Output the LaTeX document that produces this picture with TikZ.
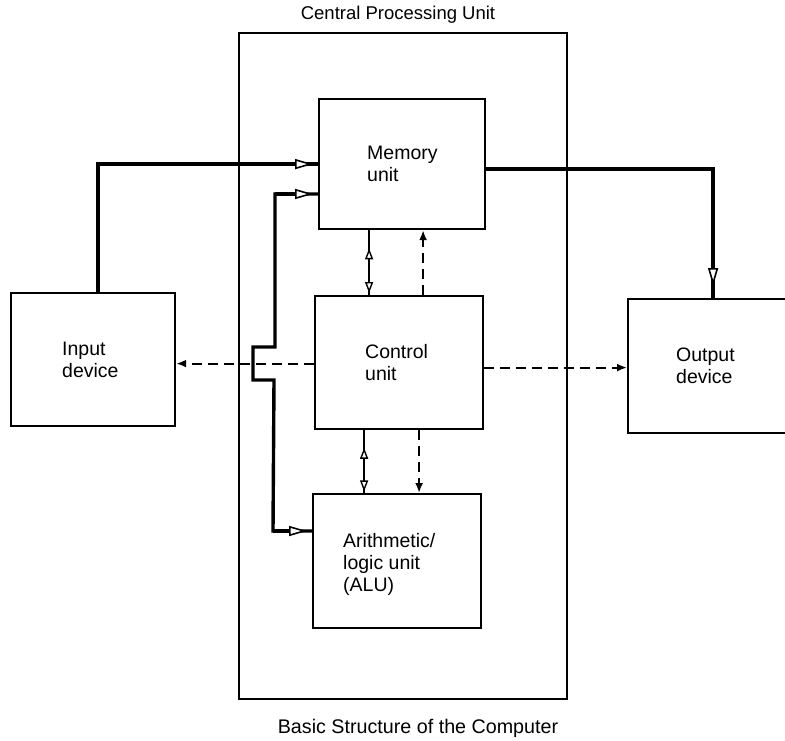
\documentclass[tikz,border=0pt]{standalone}
\usepackage{fontspec}
\setmainfont{Liberation Sans}
\usetikzlibrary{arrows.meta,decorations.markings}

\begin{document}
\begin{tikzpicture}[x=1pt,y=-1pt,
  unitbox/.style={draw,line width=2.2pt,inner sep=0pt,anchor=north west},
  lbl/.style={anchor=west,align=left,inner sep=0pt,
              font=\fontsize{19.5}{22}\selectfont},
  bus/.style={line width=3.4pt},
  ctl/.style={line width=2.2pt,dash pattern=on 10pt off 6pt},
  openhead/.style={-{Triangle[fill=white,length=18pt,width=10pt,line width=1.6pt]}},
  fillhead/.style={-{Latex[length=10pt,width=8pt]}},
  twoway/.style={line width=2.4pt,postaction={decorate},
    decoration={markings,
      mark=at position 0.72 with {\arrow{Triangle[fill=white,length=11pt,width=8pt,line width=1.4pt]}},
      mark=at position 0.20 with {\arrow{Triangle[fill=white,reversed,length=11pt,width=8pt,line width=1.4pt]}}}}
]
\path[use as bounding box] (0,0) rectangle (785,741);
\clip (0,0) rectangle (785,741);
\fill[white] (0,0) rectangle (785,741);

% central processing unit frame and its title
\node[unitbox,minimum width=328pt,minimum height=666pt] (cpu) at (238,32) {};
\node[font=\fontsize{18.5}{22}\selectfont,inner sep=0pt] (cpuT) at (398,15) {Central Processing Unit};

% units
\node[unitbox,minimum width=166pt,minimum height=130pt] (mem) at (318,98) {};
\node[unitbox,minimum width=168pt,minimum height=133pt] (ctl) at (314,295) {};
\node[unitbox,minimum width=168pt,minimum height=134pt] (alu) at (312,493) {};
\node[unitbox,minimum width=164pt,minimum height=133pt] (inp) at (10,292) {};
\node[unitbox,minimum width=170pt,minimum height=134pt] (out) at (627,298) {};

\node[lbl] (memT) at ([xshift=49pt]mem.west) {Memory\\unit};
\node[lbl] (ctlT) at ([xshift=51pt]ctl.west) {Control\\unit};
\node[lbl] (aluT) at ([xshift=31pt,yshift=-3pt]alu.west) {Arithmetic/\\logic unit\\(ALU)};
\node[lbl] (inpT) at ([xshift=52pt]inp.west) {Input\\device};
\node[lbl] (outT) at ([xshift=49pt]out.west) {Output\\device};

% data paths: input to memory, memory to output
\coordinate (inC) at ([xshift=5pt]inp.north |- mem.west);
\draw[bus] ([xshift=5pt]inp.north) -- (inC) -- (mem.west);
\draw[bus,openhead,shorten >=5pt] (inC) -- (mem.west);

\coordinate (outC) at ([yshift=-5pt]mem.east -| out.north);
\draw[bus] ([yshift=-5pt]mem.east) -- (outC) -- (out.north);
\draw[bus,openhead,shorten >=12pt] (outC) -- (out.north);

% internal bus from memory down to the ALU
\coordinate (b1) at (275,194);
\coordinate (b2) at (275,347);
\coordinate (b3) at (253,347);
\coordinate (b4) at (253,380);
\coordinate (b5) at (274,380);
\coordinate (b6) at (273,531);
\draw[bus] (mem.west |- b1) -- (b1) -- (b2) -- (b3) -- (b4) -- (b5) -- (b6) -- (alu.west |- b6);
\draw[bus,openhead,shorten >=5pt] (b1) -- (mem.west |- b1);
\draw[bus,openhead,shorten >=5pt] (b6) -- (alu.west |- b6);

% two-way transfers between the units
\draw[twoway] ([xshift=-30pt]ctl.north) -- ([xshift=-30pt]ctl.north |- mem.south);
\draw[twoway] ([xshift=-33pt]alu.north |- alu.north) -- ([xshift=-33pt]alu.north |- ctl.south);

% control signals
\draw[ctl,fillhead] ([xshift=24pt]ctl.north) -- ([xshift=24pt]ctl.north |- mem.south);
\draw[ctl,fillhead] ([xshift=20pt]ctl.south) -- ([xshift=20pt]ctl.south |- alu.north);
\draw[ctl,fillhead] ([yshift=-1pt]ctl.west) -- ([yshift=-1pt]ctl.west -| inp.east);
\draw[ctl,fillhead] ([yshift=-5pt]ctl.east) -- ([yshift=-5pt]ctl.east -| out.west);

% caption
\node[font=\fontsize{19.7}{22}\selectfont,inner sep=0pt] (cap) at (418,728) {Basic Structure of the Computer};
\end{tikzpicture}
\end{document}
